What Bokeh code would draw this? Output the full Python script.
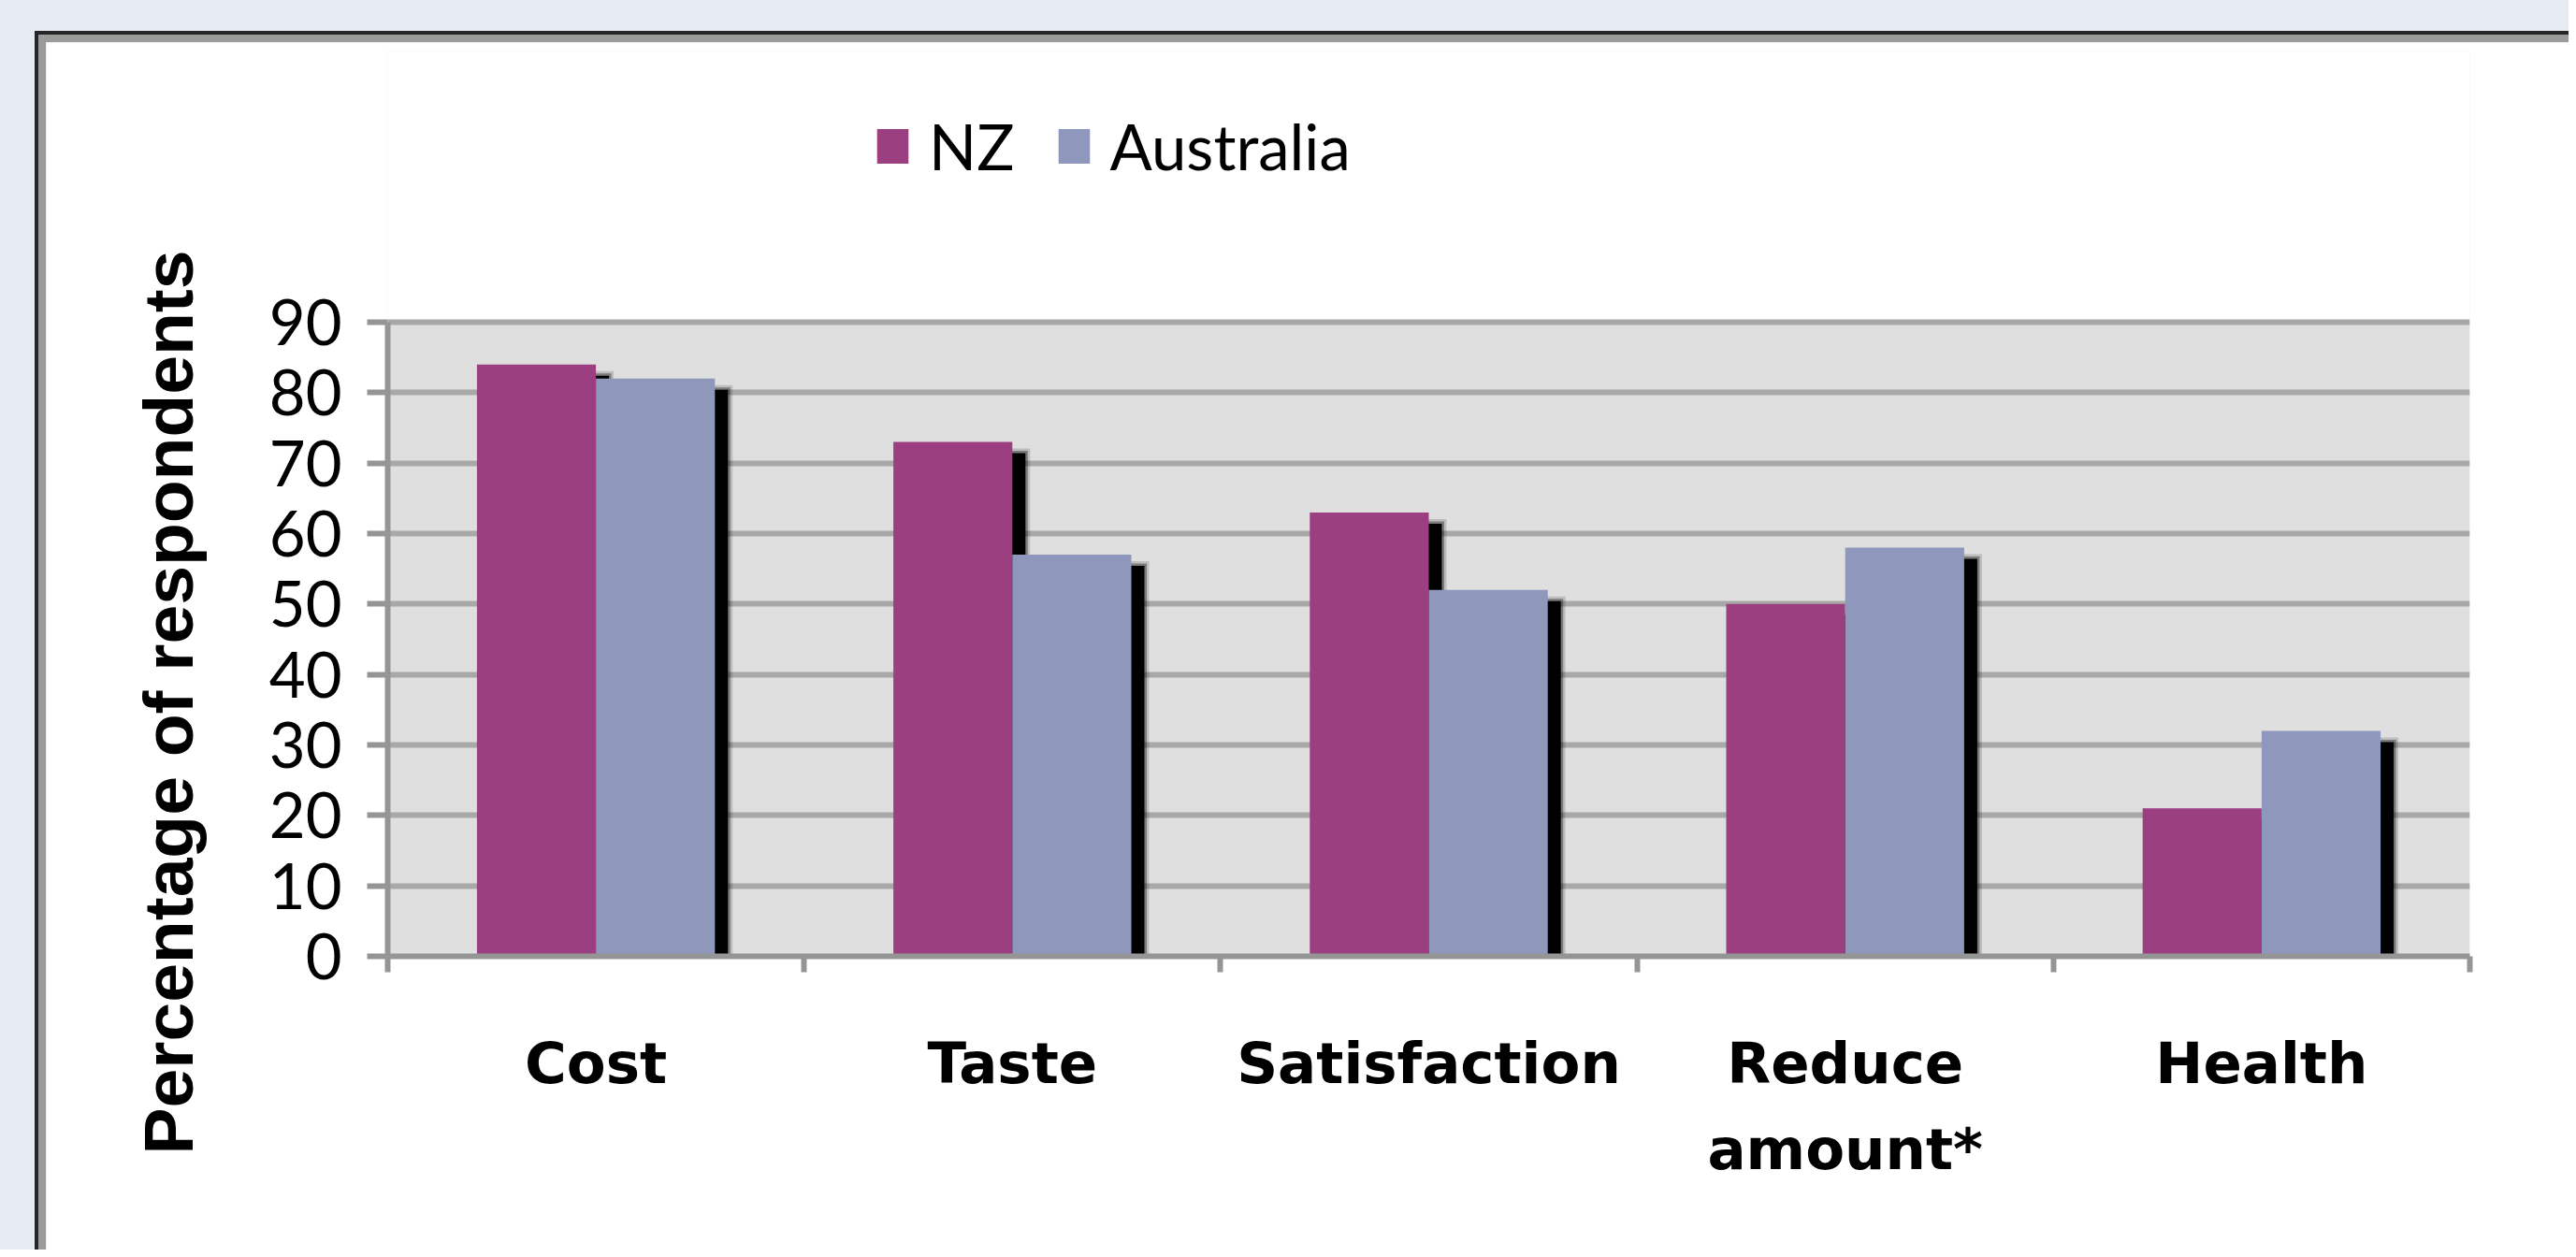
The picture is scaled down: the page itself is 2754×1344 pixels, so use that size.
from bokeh.embed import file_html
from bokeh.layouts import column
from bokeh.models import BoxAnnotation, FixedTicker, Legend, LegendItem, Range1d, Title
from bokeh.plotting import figure
from bokeh.resources import INLINE

# Reasons given by respondents, NZ vs Australia (% of respondents)
categories = ["Cost", "Taste", "Satisfaction", "Reduce\namount*", "Health"]
nz_values = [84, 73, 63, 50, 21]
aus_values = [82, 57, 52, 58, 32]
series_names = ["NZ", "Australia"]
y_ticks = [0, 10, 20, 30, 40, 50, 60, 70, 80, 90]

NZ_COLOR = "#9b3f80"
AUS_COLOR = "#8f97bd"
GRID_COLOR = "#a8a8a8"
AXIS_COLOR = "#959595"
PLOT_BG = "#dfdfdf"

n = len(categories)
y_max = y_ticks[-1]

# the frame also holds the legend strip above the grey plot area
PX_PER_UNIT = 678 / y_max          # grey area is 678px tall
LEGEND_STRIP = 290                 # px of white frame above the grey area
FRAME_W = 2226
FRAME_H = 678 + LEGEND_STRIP
y_top = y_max + LEGEND_STRIP / PX_PER_UNIT

p = figure(
    width=2705, height=1299,
    x_range=Range1d(0, n), y_range=Range1d(0, y_top),
    output_backend="svg", toolbar_location=None, title=None,
    min_border_left=365, min_border_right=114,
    min_border_top=1299 - 322 - FRAME_H, min_border_bottom=322,
    background_fill_color="white", border_fill_color="white",
    outline_line_color=None,
    styles={"border-left": "8px solid #9b9b9b", "border-top": "8px solid #9b9b9b"},
)

# grey plot area behind the gridlines
p.add_layout(BoxAnnotation(left=0, right=n, bottom=0, top=y_max, level="image",
                           fill_color=PLOT_BG, fill_alpha=1, line_color=None))

# bar geometry: two bars per category, 150% gap width
bar_w = 1 / 3.5
centers = [i + 0.5 for i in range(n)]
nz_x = [c - bar_w / 2 for c in centers]
aus_x = [c + bar_w / 2 for c in centers]

# drop shadow offsets, in data units for ~14px right / ~12px down
dx = 14 * n / FRAME_W
dy = 12 / PX_PER_UNIT
for xs, vals in ((nz_x, nz_values), (aus_x, aus_values)):
    sx = [x + dx for x in xs]
    tops = [v - dy for v in vals]
    for grow, alpha in ((5, 0.15), (2.5, 0.35), (0, 1.0)):
        gx = grow * n / FRAME_W
        gy = grow / PX_PER_UNIT
        p.vbar(x=sx, top=[t + gy for t in tops], bottom=0, width=bar_w + 2 * gx,
               fill_color="black", fill_alpha=alpha, line_color=None)

r_nz = p.vbar(x=nz_x, top=nz_values, width=bar_w, fill_color=NZ_COLOR, line_color=None)
r_aus = p.vbar(x=aus_x, top=aus_values, width=bar_w, fill_color=AUS_COLOR, line_color=None)

# x axis: category names centred, tick marks at category boundaries
p.xaxis.ticker = FixedTicker(ticks=centers, minor_ticks=list(range(n + 1)))
p.xaxis.major_label_overrides = {c: lab for c, lab in zip(centers, categories)}
p.xaxis.major_tick_line_color = None
p.xaxis.major_tick_out = 0
p.xaxis.major_tick_in = 0
p.xaxis.minor_tick_in = 0
p.xaxis.minor_tick_out = 17
p.xaxis.minor_tick_line_color = AXIS_COLOR
p.xaxis.minor_tick_line_width = 6
p.xaxis.axis_line_color = AXIS_COLOR
p.xaxis.axis_line_width = 6
p.xaxis.major_label_text_font = "DejaVu Sans"
p.xaxis.major_label_text_font_style = "bold"
p.xaxis.major_label_text_font_size = "61px"
p.xaxis.major_label_text_color = "black"
p.xaxis.major_label_text_line_height = 1.3
p.xaxis.major_label_standoff = 61

# y axis, its line limited to the grey area
p.yaxis.bounds = (0, y_max)
p.yaxis.ticker = FixedTicker(ticks=y_ticks)
p.yaxis.major_tick_in = 0
p.yaxis.major_tick_out = 22
p.yaxis.major_tick_line_color = AXIS_COLOR
p.yaxis.major_tick_line_width = 6
p.yaxis.minor_tick_line_color = None
p.yaxis.axis_line_color = AXIS_COLOR
p.yaxis.axis_line_width = 6
p.yaxis.major_label_text_font = "Lato"
p.yaxis.major_label_text_font_size = "67px"
p.yaxis.major_label_text_color = "black"
p.yaxis.major_label_standoff = 27

p.xgrid.grid_line_color = None
p.ygrid.ticker = FixedTicker(ticks=y_ticks)
p.ygrid.grid_line_color = GRID_COLOR
p.ygrid.grid_line_width = 6

# y axis title, placed in the left side panel
p.add_layout(Title(
    text="Percentage of respondents", align="left", offset=-212, standoff=126,
    text_font="Liberation Sans", text_font_style="bold",
    text_font_size="75px", text_color="black",
), "left")

legend = Legend(
    items=[LegendItem(label=series_names[0], renderers=[r_nz]),
           LegendItem(label=series_names[1], renderers=[r_aus])],
    location=(519, 826), orientation="horizontal",
    glyph_width=42, glyph_height=46, label_standoff=18, spacing=42,
    label_text_font="Lato", label_text_font_size="67px",
    label_text_color="black", label_text_baseline="middle",
    padding=0, margin=0, border_line_color=None, background_fill_alpha=0,
)
p.add_layout(legend)

inner = column(p, styles={"border-left": "4px solid #262626", "border-top": "4px solid #262626"})
page = column(inner, styles={"background-color": "#e6eaf3", "padding-left": "37px", "padding-top": "33px"})

open("out.html", "w").write(file_html(page, INLINE))
